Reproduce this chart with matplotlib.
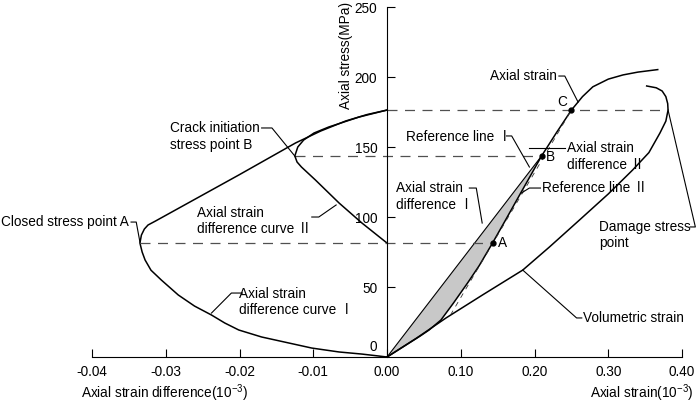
import numpy as np
import matplotlib.pyplot as plt

plt.rcParams['font.family'] = ['Liberation Sans', 'Noto Sans CJK SC', 'DejaVu Sans']
plt.rcParams['font.size'] = 9.8
plt.rcParams['mathtext.fontset'] = 'custom'
plt.rcParams['mathtext.rm'] = 'Liberation Sans'
plt.rcParams['mathtext.it'] = 'Liberation Sans'

# left half is axial strain difference (10^-3), drawn 10x wider than the right half
LEFT_SCALE = 10

# characteristic stresses (MPa)
stress_A = 81.4
stress_B = 143.6
stress_C = 176.4

# axial strain difference curve I (10^-3, MPa)
diff1_x = [0, -0.0011, -0.0034, -0.0065, -0.0102, -0.0133, -0.0170, -0.0201, -0.0220,
           -0.0238, -0.0261, -0.0283, -0.0306, -0.0320, -0.0328, -0.0332, -0.0335,
           -0.0333, -0.0329, -0.0324, -0.0314, -0.0201, -0.0124, -0.0090, -0.0056,
           -0.0027, 0]
diff1_y = [0, 0.7, 2.1, 3.6, 6.4, 10, 14.3, 19.3, 24.3,
           30, 36.4, 44.3, 55, 62, 69.3, 75, 81.4,
           87.1, 91.4, 94.3, 97.1, 130, 152.9, 161.4, 168.6,
           173.2, 176.4]

# axial strain difference curve II
diff2_x = [0, -0.0034, -0.0065, -0.0097, -0.0116, -0.0122, -0.0125, -0.0121, -0.0113,
           -0.0099, -0.0079, -0.0038, 0]
diff2_y = [81.4, 95.7, 110, 126.4, 135.7, 139.3, 143.6, 150, 155,
           160, 164.3, 171.4, 176.4]

# axial strain curve (10^-3, MPa)
axial_x = [0, 0.015, 0.03, 0.045, 0.057, 0.073, 0.09, 0.11, 0.125, 0.143, 0.16,
           0.18, 0.195, 0.2095, 0.23, 0.25, 0.265, 0.279, 0.30, 0.32, 0.34, 0.367]
axial_y = [0, 5, 10, 15, 19.3, 26.4, 38.5, 53.5, 65.3, 81.4, 97.2,
           116, 130, 143.6, 160.5, 176.4, 186, 193, 198.5, 201.5, 203.5, 205.3]

# volumetric strain curve
vol_x = [0, 0.04, 0.080, 0.13, 0.184, 0.22, 0.261, 0.30, 0.333, 0.355, 0.370, 0.378,
         0.381, 0.3805, 0.378, 0.373, 0.365, 0.352]
vol_y = [0, 13.5, 27.9, 44.5, 62.1, 78.5, 97.9, 116.5, 133.6, 146, 160, 168.5,
         176.4, 181, 186, 190, 192.3, 193.6]

# reference lines
ref1_x = [0, 0.2095]
ref1_y = [0, 143.6]
ref2_x = [0.086, 0.25]
ref2_y = [30, 176.4]

x_ticks = [-0.4, -0.3, -0.2, -0.1, 0, 0.1, 0.2, 0.3, 0.4]
x_ticklabels = ['-0.04', '-0.03', '-0.02', '-0.01', '0.00', '0.10', '0.20', '0.30', '0.40']
y_ticks = [50, 100, 150, 200, 250]

fig = plt.figure(figsize=(7, 4.03), dpi=100)
ax = fig.add_axes([0.1314, 0.1141, 0.843, 0.8685])
ax.set_xlim(-0.4, 0.4)
ax.set_ylim(0, 250)

ax.spines['top'].set_visible(False)
ax.spines['right'].set_visible(False)
ax.spines['left'].set_position(('data', 0))
ax.set_xticks(x_ticks)
ax.set_xticklabels(x_ticklabels)
ax.set_yticks(y_ticks)
ax.tick_params(axis='x', direction='in', length=6, pad=6)
ax.tick_params(axis='y', direction='in', length=6, pad=7)
ax.text(-0.0136, 7, '0', ha='right', va='center')

lw = 1.1
dx1 = np.array(diff1_x) * LEFT_SCALE
dx2 = np.array(diff2_x) * LEFT_SCALE
ax.plot(dx1, diff1_y, color='black', lw=lw)
ax.plot(dx2, diff2_y, color='black', lw=lw)

# shaded axial strain difference I
nB = axial_x.index(0.2095) + 1
ax.fill(axial_x[:nB] + [0], axial_y[:nB] + [0], color='#c8c8c8', lw=0)
ax.plot(axial_x, axial_y, color='black', lw=lw)
ax.plot(vol_x, vol_y, color='black', lw=lw)
ax.plot(ref1_x, ref1_y, color='black', lw=0.8)
ax.plot(ref2_x, ref2_y, color='#333333', lw=0.6, ls=(0, (6, 6)))

# dashed level lines
dash = dict(color='#505050', lw=0.9, ls=(0, (8, 6)))
ax.plot([dx1[16], 0.143], [stress_A, stress_A], **dash)
ax.plot([dx2[6], 0.2095], [stress_B, stress_B], **dash)
ax.plot([0, 0.381], [stress_C, stress_C], **dash)

ax.plot([0.143, 0.2095, 0.25], [stress_A, stress_B, stress_C], 'o', color='black', ms=3.5)

def leader(xs, ys):
    ax.plot(xs, ys, color='black', lw=0.8, clip_on=False)

# left annotations
ax.text(-0.3497, 96.4, 'Closed stress point A', ha='right', va='center')
leader([-0.347, -0.340, -0.335], [96.4, 96.4, 82.1])
ax.text(-0.294, 157.5, 'Crack initiation\nstress point B', ha='left', va='center')
leader([-0.170, -0.156, -0.124], [163.6, 163.6, 142.9])
ax.text(-0.257, 97.1, 'Axial strain\ndifference curve Ⅱ', ha='left', va='center')
leader([-0.102, -0.0925, -0.069], [100, 100, 108.6])
ax.text(-0.201, 39.3, 'Axial strain\ndifference curve Ⅰ', ha='left', va='center')
leader([-0.196, -0.211, -0.238], [45.7, 45.7, 31.4])

# right annotations
ax.text(0.230, 200.7, 'Axial strain', ha='right', va='center')
leader([0.233, 0.241, 0.259], [200.7, 200.7, 182.1])
ax.text(0.238, 182.1, 'C', ha='center', va='center')
ax.text(0.026, 157.1, 'Reference line Ⅰ', ha='left', va='center')
leader([0.162, 0.169, 0.193], [157.9, 157.9, 135.7])
ax.text(0.215, 142.9, 'B', ha='left', va='center')
ax.text(0.2435, 143.2, 'Axial strain\ndifference Ⅱ', ha='left', va='center')
leader([0.193, 0.241], [149.3, 149.3])
ax.text(0.2095, 120.7, 'Reference line Ⅱ', ha='left', va='center')
leader([0.208, 0.193, 0.182], [120.7, 120.7, 117.1])
ax.text(0.012, 114.6, 'Axial strain\ndifference Ⅰ', ha='left', va='center')
leader([0.1116, 0.121, 0.129], [120.7, 120.7, 95.7])
ax.text(0.151, 81.4, 'A', ha='left', va='center')
ax.text(0.288, 87.1, 'Damage stress\npoint', ha='left', va='center')
leader([0.381, 0.418, 0.411], [176.4, 92.9, 92.9])
ax.text(0.265, 27.9, 'Volumetric strain', ha='left', va='center')
leader([0.184, 0.257, 0.264], [62.1, 27.9, 27.9])

ax.text(-0.0558, 215.7, 'Axial stress(MPa)', rotation=90, ha='center', va='center')
ax.text(-0.415, -25.7, 'Axial strain difference(10$^{-3}$)', ha='left', va='center')
ax.text(0.415, -25.7, 'Axial strain(10$^{-3}$)', ha='right', va='center')

fig.savefig('out.png', dpi=100)
